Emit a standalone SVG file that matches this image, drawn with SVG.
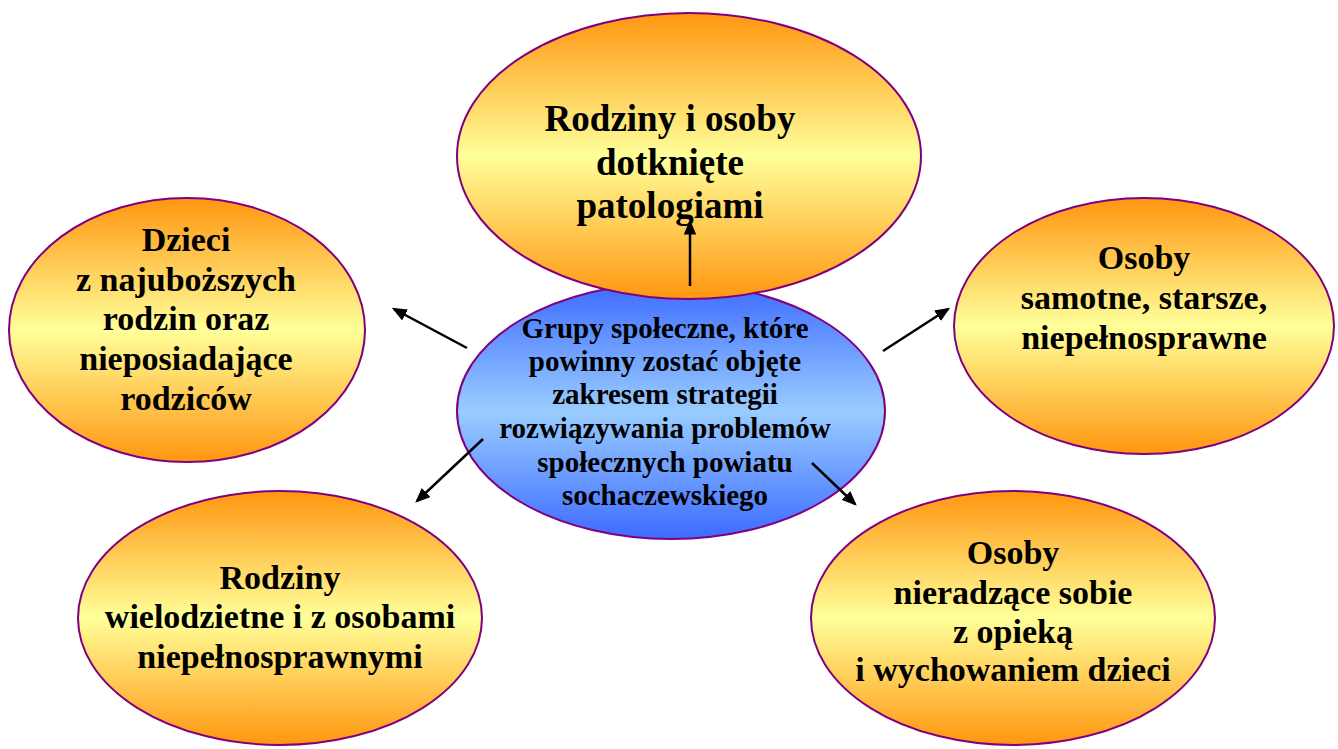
<svg xmlns="http://www.w3.org/2000/svg" width="1338" height="749" viewBox="0 0 1338 749">
<defs>
<linearGradient id="og" x1="0" y1="0" x2="0" y2="1">
<stop offset="0" stop-color="#FF9610"/>
<stop offset="0.5" stop-color="#FFFF99"/>
<stop offset="1" stop-color="#FF9610"/>
</linearGradient>
<linearGradient id="bg" x1="0" y1="0" x2="0" y2="1">
<stop offset="0" stop-color="#3D6BFF"/>
<stop offset="0.5" stop-color="#99CCFF"/>
<stop offset="1" stop-color="#3D6BFF"/>
</linearGradient>
<marker id="ah" markerWidth="6" markerHeight="5" refX="5" refY="2.5" orient="auto" markerUnits="strokeWidth">
<path d="M0,0 L6,2.5 L0,5 Z" fill="#000"/>
</marker>
</defs>
<style>
.o{fill:url(#og);stroke:#800080;stroke-width:2}
.b{fill:url(#bg);stroke:#800080;stroke-width:2}
text{font-family:"Liberation Serif","Times New Roman",serif;font-weight:bold;fill:#000;text-anchor:middle}
.t{font-size:34px}
.tt{font-size:37px}
.c{font-size:29px}
.a{stroke:#000;stroke-width:2.5;fill:none;marker-end:url(#ah)}
</style>
<g id="center">
<ellipse class="b" cx="671" cy="411" rx="214" ry="128"/>
<text class="c" x="665" y="338">Grupy społeczne, które</text>
<text class="c" x="665" y="371">powinny zostać objęte</text>
<text class="c" x="665" y="404">zakresem strategii</text>
<text class="c" x="665" y="438">rozwiązywania problemów</text>
<text class="c" x="665" y="472">społecznych powiatu</text>
<text class="c" x="665" y="505">sochaczewskiego</text>
</g>
<g id="top">
<ellipse class="o" cx="689" cy="156" rx="232" ry="143"/>
<text class="tt" x="670" y="131">Rodziny i osoby</text>
<text class="tt" x="670" y="175">dotknięte</text>
<text class="tt" x="670" y="218">patologiami</text>
</g>
<g id="left">
<ellipse class="o" cx="187" cy="330" rx="178" ry="132"/>
<text class="t" x="186" y="251">Dzieci</text>
<text class="t" x="186" y="291">z najuboższych</text>
<text class="t" x="186" y="330">rodzin oraz</text>
<text class="t" x="186" y="370">nieposiadające</text>
<text class="t" x="186" y="410">rodziców</text>
</g>
<g id="right">
<ellipse class="o" cx="1144" cy="326" rx="190" ry="128"/>
<text class="t" x="1144" y="269">Osoby</text>
<text class="t" x="1144" y="309">samotne, starsze,</text>
<text class="t" x="1144" y="349">niepełnosprawne</text>
</g>
<g id="bottomleft">
<ellipse class="o" cx="280" cy="618" rx="202" ry="127"/>
<text class="t" x="280" y="589">Rodziny</text>
<text class="t" x="280" y="628">wielodzietne i z osobami</text>
<text class="t" x="280" y="668">niepełnosprawnymi</text>
</g>
<g id="bottomright">
<ellipse class="o" cx="1013" cy="618" rx="202" ry="127"/>
<text class="t" x="1013" y="564">Osoby</text>
<text class="t" x="1013" y="604">nieradzące sobie</text>
<text class="t" x="1013" y="643">z opieką</text>
<text class="t" x="1013" y="681">i wychowaniem dzieci</text>
</g>
<g id="connectors">
<line class="a" x1="690" y1="286" x2="690" y2="222"/>
<line class="a" x1="467" y1="348" x2="394" y2="309"/>
<line class="a" x1="883" y1="351" x2="948" y2="309"/>
<line class="a" x1="483" y1="439" x2="417" y2="501"/>
<line class="a" x1="812" y1="463" x2="855" y2="504"/>
</g>
</svg>
